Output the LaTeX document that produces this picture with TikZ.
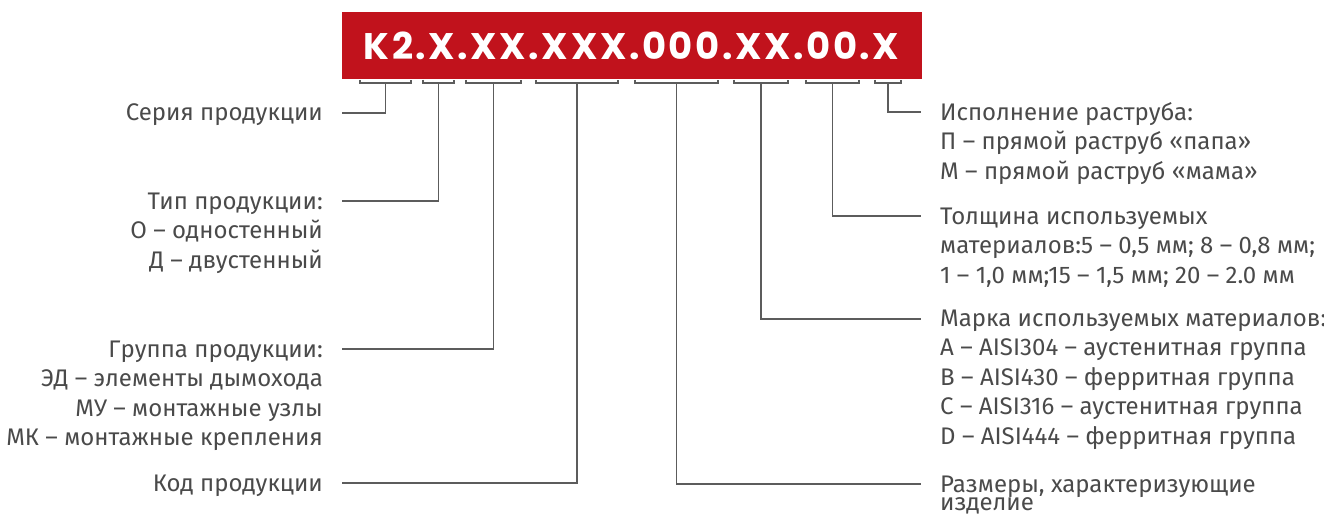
\documentclass[tikz,border=0pt]{standalone}
\usepackage{fontspec}
\setmainfont{Fira Sans}
\newfontfamily\codefont[LetterSpace=7]{Poppins}
\usetikzlibrary{positioning}
\definecolor{codered}{HTML}{C1121C}
\definecolor{ink}{HTML}{4A4A4A}
\definecolor{wire}{HTML}{5C5C5C}

\begin{document}
\begin{tikzpicture}[x=1pt,y=-1pt,
  title/.style={fill=codered,text=white,minimum width=580pt,minimum height=67pt,inner sep=0pt,font=\codefont\bfseries\fontsize{37}{40}\selectfont},
  lbl/.style={text=ink,inner sep=0pt,font=\fontsize{24}{29.5}\selectfont},
  lblL/.style={lbl,align=right,anchor=base east},
  lblR/.style={lbl,align=left,anchor=base west},
  brk/.style={draw=wire,line width=1.5pt},
  wire/.style={draw=wire,line width=1.8pt}]
  \useasboundingbox (0,0) rectangle (1324,516);
  \node[title] (code) at (631.5,45.5) {K2.X.XX.XXX.000.XX.00.X};
  % brackets under the code
  \foreach \a/\b/\n in {360/411/ser,423/454/typ,466/521/grp,536/618/kod,635/718/raz,734/788/mrk,806/859/tol,875/901/isp}{
    \draw[brk] (\a,80) -- (\a,83) -- (\b,83) -- (\b,80);
    \coordinate (\n) at ({(\a+\b)/2},83);
  }
  % left labels (base = last line)
  \node[lblL] (tser) at (323,121) {Серия продукции};
  \node[lblL] (ttyp) at (323,268) {Тип продукции:\\О – одностенный\\Д – двустенный};
  \node[lblL] (tgrp) at (323,445.5) {Группа продукции:\\ЭД – элементы дымохода\\МУ – монтажные узлы\\МК – монтажные крепления};
  \node[lblL] (tkod) at (323,491) {Код продукции};
  % right labels
  \node[lblR] (tisp) at (940,179) {Исполнение раструба:\\П – прямой раструб «папа»\\М – прямой раструб «мама»};
  \node[lblR] (ttol) at (940,283) {Толщина используемых\\материалов:5 – 0,5 мм; 8 – 0,8 мм;\\1 – 1,0 мм;15 – 1,5 мм; 20 – 2.0 мм};
  \node[lblR] (tmrk) at (940,444) {Марка используемых материалов:\\A – AISI304 – аустенитная группа\\B – AISI430 – ферритная группа\\C – AISI316 – аустенитная группа\\D – AISI444 – ферритная группа};
  \node[lblR] (traz) at (940,510.5) {Размеры, характеризующие\\[-11pt]изделие};
  % line ends
  \coordinate (ser-e) at (342,113);
  \coordinate (typ-e) at (342,201);
  \coordinate (grp-e) at (342,349);
  \coordinate (kod-e) at (342,483);
  \coordinate (isp-e) at (921,112);
  \coordinate (tol-e) at (921,216);
  \coordinate (mrk-e) at (921,319);
  \coordinate (raz-e) at (921,484);
  \draw[wire] (ser) |- (ser-e);
  \draw[wire] (typ) |- (typ-e);
  \draw[wire] (grp) |- (grp-e);
  \draw[wire] (kod) |- (kod-e);
  \draw[wire] (raz) |- (raz-e);
  \draw[wire] (mrk) |- (mrk-e);
  \draw[wire] (tol) |- (tol-e);
  \draw[wire] (isp) |- (isp-e);
\end{tikzpicture}
\end{document}
